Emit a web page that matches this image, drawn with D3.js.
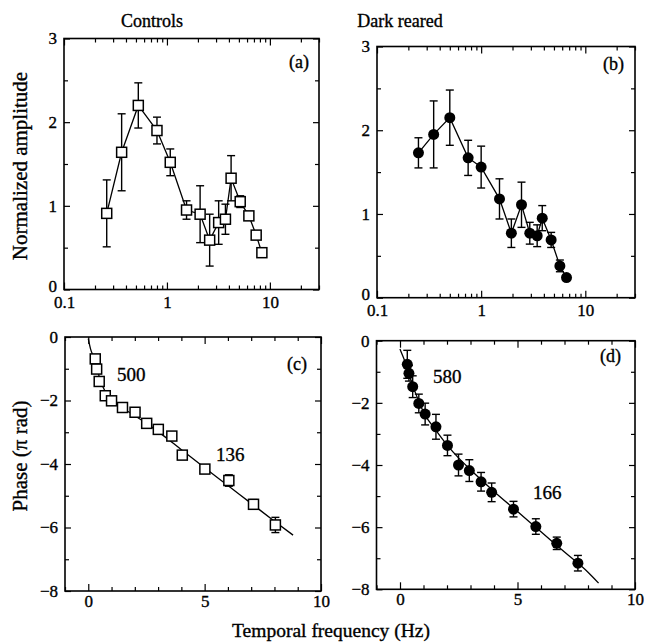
<!DOCTYPE html>
<html><head><meta charset="utf-8">
<script src="https://cdn.jsdelivr.net/npm/d3@7"></script>
<style>
body{margin:0;background:#fff}
svg{display:block}
text{font-family:"Liberation Serif","Times New Roman",serif;fill:#000;stroke:#000;stroke-width:0.35px}
</style>
</head><body>
<svg id="chart" width="646" height="642"></svg>
<script>
// ---------- DATA ----------
// (a) Controls amplitude
const ctrlAmpFreq = [0.26,0.363,0.527,0.8,1.077,1.55,2.1,2.6,3.18,3.7,4.2,5.15,6.25,7.36,8.36];
const ctrlAmp     = [0.91,1.64,2.20,1.90,1.52,0.95,0.90,0.59,0.80,0.84,1.33,1.05,0.88,0.65,0.44];
const ctrlAmpErr  = [0.40,0.46,0.27,0.16,0.16,0.11,0.34,0.31,0.26,0.18,0.27,0.07,0.05,0.04,0.03];
// (b) Dark reared amplitude
const darkAmpFreq = [0.25,0.35,0.5,0.75,1.0,1.5,1.95,2.44,2.93,3.45,3.86,4.7,5.7,6.6];
const darkAmp     = [1.73,1.95,2.15,1.67,1.56,1.18,0.77,1.11,0.77,0.74,0.95,0.69,0.38,0.24];
const darkAmpErr  = [0.18,0.40,0.33,0.21,0.25,0.24,0.17,0.27,0.13,0.13,0.15,0.09,0.07,0.03];
// (c) Controls phase
const ctrlPhFreq = [0.30,0.36,0.47,0.73,1.0,1.47,2.01,2.51,3.01,3.59,4.04,5.01,6.04,7.1,8.04];
const ctrlPh     = [-0.69,-1.01,-1.40,-1.85,-2.01,-2.22,-2.37,-2.72,-2.91,-3.12,-3.72,-4.16,-4.52,-5.27,-5.92];
const ctrlPhErr  = [0.1,0.1,0.1,0.08,0.08,0.08,0.08,0.08,0.08,0.1,0.1,0.1,0.18,0.15,0.24];
const ctrlFitFreq = [0,0.1,0.2,0.3,0.4,0.5,0.65,0.8,1,1.5,2,2.5,3,4,5,6,7,8,8.8];
const ctrlFitPh   = [-0.05,-0.38,-0.58,-0.78,-1.05,-1.33,-1.6,-1.82,-2.0,-2.25,-2.48,-2.72,-2.98,-3.55,-4.12,-4.68,-5.24,-5.80,-6.24];
// (d) Dark reared phase
const darkPhFreq = [0.31,0.38,0.54,0.80,1.07,1.53,2.02,2.49,2.95,3.45,3.9,4.83,5.78,6.67,7.57];
const darkPh     = [-0.76,-1.05,-1.48,-2.02,-2.36,-2.77,-3.37,-4.0,-4.18,-4.54,-4.88,-5.42,-5.98,-6.52,-7.16];
const darkPhErr  = [0.45,0.25,0.35,0.3,0.35,0.4,0.33,0.35,0.35,0.3,0.3,0.25,0.25,0.2,0.25];
const darkFitFreq = [0,0.15,0.3,0.5,0.8,1,1.5,2,2.5,3,4,5,6,7,8,8.45];
const darkFitPh   = [-0.27,-0.55,-0.85,-1.35,-1.95,-2.3,-2.85,-3.35,-3.78,-4.15,-4.85,-5.5,-6.15,-6.8,-7.45,-7.8];

// tick labels
const logMajor = [0.1,1,10];
const logMajorLabels = ["0.1","1","10"];
const logMinor = [0.2,0.3,0.4,0.5,0.6,0.7,0.8,0.9,2,3,4,5,6,7,8,9,20,30];
const ampMajor = [0,1,2,3];
const ampMinor = [0.5,1.5,2.5];
const linMajor = [0,5,10];
const linMinor = [-1,1,2,3,4,6,7,8,9];
const phMajor = [0,-2,-4,-6,-8];
const phMinor = [-1,-3,-5,-7];

// ---------- DRAW ----------
const svg = d3.select("#chart");

function drawPanel(o){
  const g = svg.append("g");
  const x = o.x, y = o.y;
  const [x0,x1] = x.range(), [y1,y0] = y.range();
  g.append("rect").attr("x",x0).attr("y",y0).attr("width",x1-x0).attr("height",y1-y0)
    .attr("fill","none").attr("stroke","#000").attr("stroke-width",1.6);
  const fmt = o.xLabels ? (d=>o.xLabels[o.xMajor.indexOf(d)]) : d3.format("d");
  g.append("g").attr("transform",`translate(0,${y1})`)
    .call(d3.axisBottom(x).tickValues(o.xMajor).tickFormat(fmt).tickSizeInner(-7).tickSizeOuter(0).tickPadding(o.xPad))
    .select(".domain").remove();
  g.append("g").attr("transform",`translate(0,${y1})`)
    .call(d3.axisBottom(x).tickValues(o.xMinor).tickFormat("").tickSizeInner(-4).tickSizeOuter(0))
    .select(".domain").remove();
  g.append("g").attr("transform",`translate(0,${y0})`)
    .call(d3.axisTop(x).tickValues(o.xMajor).tickFormat("").tickSizeInner(-7).tickSizeOuter(0))
    .select(".domain").remove();
  g.append("g").attr("transform",`translate(0,${y0})`)
    .call(d3.axisTop(x).tickValues(o.xMinor).tickFormat("").tickSizeInner(-4).tickSizeOuter(0))
    .select(".domain").remove();
  const ly = g.append("g").attr("transform",`translate(${x0},0)`)
    .call(d3.axisLeft(y).tickValues(o.yMajor).tickFormat(d3.format("d")).tickSizeInner(-6).tickSizeOuter(0).tickPadding(7));
  ly.select(".domain").remove();
  if(o.lowZeroUp){
    ly.selectAll(".tick").filter(d=>d===0).select("text").attr("dy","0.1em");
  }
  g.append("g").attr("transform",`translate(${x0},0)`)
    .call(d3.axisLeft(y).tickValues(o.yMinor).tickFormat("").tickSizeInner(-4).tickSizeOuter(0))
    .select(".domain").remove();
  g.append("g").attr("transform",`translate(${x1},0)`)
    .call(d3.axisRight(y).tickValues(o.yMajor).tickFormat("").tickSizeInner(-6).tickSizeOuter(0))
    .select(".domain").remove();
  g.append("g").attr("transform",`translate(${x1},0)`)
    .call(d3.axisRight(y).tickValues(o.yMinor).tickFormat("").tickSizeInner(-4).tickSizeOuter(0))
    .select(".domain").remove();
  g.selectAll(".tick line").attr("stroke","#000").attr("stroke-width",1.2);
  g.selectAll(".tick text").attr("font-size",17).attr("font-family","Liberation Serif").attr("fill","#000");

  if(o.fitX){
    const fit = o.fitX.map((v,i)=>[v,o.fitY[i]]);
    g.append("path").datum(fit)
      .attr("d",d3.line().x(d=>x(d[0])).y(d=>y(d[1])).curve(d3.curveMonotoneX))
      .attr("fill","none").attr("stroke","#000").attr("stroke-width",1.3);
  }
  const pts = o.px.map((v,i)=>({f:v,v:o.py[i],e:o.pe[i]}));
  if(o.connect){
    g.append("path").datum(pts)
      .attr("d",d3.line().x(d=>x(d.f)).y(d=>y(d.v)))
      .attr("fill","none").attr("stroke","#000").attr("stroke-width",1.3);
  }
  const eb = g.append("g").attr("stroke","#000").attr("stroke-width",1.4);
  pts.forEach(d=>{
    const cx = x(d.f), yt = y(d.v+d.e), yb = y(d.v-d.e);
    eb.append("line").attr("x1",cx).attr("x2",cx).attr("y1",yt).attr("y2",yb);
    eb.append("line").attr("x1",cx-4).attr("x2",cx+4).attr("y1",yt).attr("y2",yt);
    eb.append("line").attr("x1",cx-4).attr("x2",cx+4).attr("y1",yb).attr("y2",yb);
  });
  if(o.marker==="square"){
    g.selectAll("rect.m").data(pts).join("rect").attr("class","m")
      .attr("x",d=>x(d.f)-5).attr("y",d=>y(d.v)-5).attr("width",10).attr("height",10)
      .attr("fill","#fff").attr("stroke","#000").attr("stroke-width",1.5);
  } else {
    g.selectAll("circle.m").data(pts).join("circle").attr("class","m")
      .attr("cx",d=>x(d.f)).attr("cy",d=>y(d.v)).attr("r",5.5).attr("fill","#000");
  }
  (o.notes||[]).forEach(n=>{
    g.append("text").attr("x",n[0]).attr("y",n[1]).attr("font-size",n[3]||19).text(n[2]);
  });
}

drawPanel({
  x: d3.scaleLog().domain([0.1,30]).range([64,319]),
  y: d3.scaleLinear().domain([0,3]).range([289.5,38.5]),
  xMajor: logMajor, xLabels: logMajorLabels, xMinor: logMinor, xPad: 6,
  yMajor: ampMajor, yMinor: ampMinor, lowZeroUp: true,
  px: ctrlAmpFreq, py: ctrlAmp, pe: ctrlAmpErr, connect: true, marker: "square",
  notes: [[289,68,"(a)",18]]
});
drawPanel({
  x: d3.scaleLog().domain([0.1,30]).range([377,635]),
  y: d3.scaleLinear().domain([0,3]).range([297.7,46.5]),
  xMajor: logMajor, xLabels: logMajorLabels, xMinor: logMinor, xPad: 6,
  yMajor: ampMajor, yMinor: ampMinor, lowZeroUp: true,
  px: darkAmpFreq, py: darkAmp, pe: darkAmpErr, connect: true, marker: "circle",
  notes: [[603,70,"(b)",18]]
});
drawPanel({
  x: d3.scaleLinear().domain([-1,10]).range([65,321]),
  y: d3.scaleLinear().domain([-8,0]).range([591,337]),
  xMajor: linMajor, xMinor: linMinor, xPad: 4,
  yMajor: phMajor, yMinor: phMinor,
  px: ctrlPhFreq, py: ctrlPh, pe: ctrlPhErr, connect: false, marker: "square",
  fitX: ctrlFitFreq, fitY: ctrlFitPh,
  notes: [[117,381,"500"],[216,461,"136"],[287,370,"(c)",18]]
});
drawPanel({
  x: d3.scaleLinear().domain([-1,10]).range([376.5,635]),
  y: d3.scaleLinear().domain([-8,0]).range([589.3,340.7]),
  xMajor: linMajor, xMinor: linMinor, xPad: 4,
  yMajor: phMajor, yMinor: phMinor,
  px: darkPhFreq, py: darkPh, pe: darkPhErr, connect: false, marker: "circle",
  fitX: darkFitFreq, fitY: darkFitPh,
  notes: [[433,383,"580"],[533,499,"166"],[600,362,"(d)",18]]
});

svg.append("text").attr("x",152).attr("y",27).attr("text-anchor","middle").attr("font-size",18).text("Controls");
svg.append("text").attr("x",400).attr("y",27).attr("text-anchor","middle").attr("font-size",18).text("Dark reared");
svg.append("text").attr("transform","translate(27,166) rotate(-90)").attr("text-anchor","middle").attr("font-size",21).text("Normalized amplitude");
svg.append("text").attr("transform","translate(27,456) rotate(-90)").attr("text-anchor","middle").attr("font-size",21).text("Phase (π rad)");
svg.append("text").attr("x",331).attr("y",637).attr("text-anchor","middle").attr("font-size",19.5).text("Temporal frequency (Hz)");
</script>
</body></html>
